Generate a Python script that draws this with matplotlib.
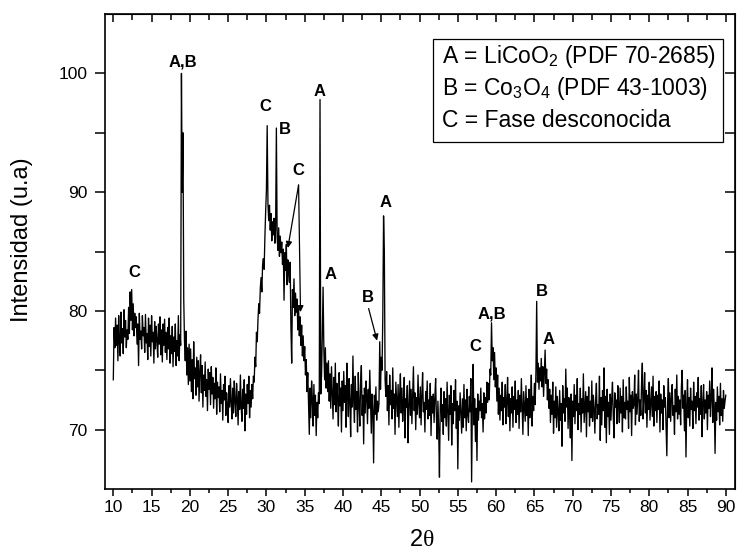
import numpy as np
import matplotlib
matplotlib.use("Agg")
import matplotlib.pyplot as plt

plt.rcParams['font.family'] = ['Liberation Sans', 'DejaVu Sans']
plt.rcParams['mathtext.fontset'] = 'custom'
plt.rcParams['mathtext.rm'] = 'Liberation Sans'
plt.rcParams['mathtext.it'] = 'Liberation Sans'
plt.rcParams['mathtext.sf'] = 'Liberation Serif'

# 2-theta sampling grid: 10.0 .. 90.0 in 0.1 deg steps
theta_start, theta_stop, theta_step = 10.0, 90.0, 0.1

# Intensity values (one row per degree)
seg_10_20 = [
    74.2, 78.6, 76.9, 79.4, 77.1, 78.8, 75.8, 79.6, 77.4, 76.2,
    79.9, 77.3, 78.5, 76.4, 80.1, 77.8, 79.2, 76.9, 78.4, 77.6,
    80.3, 78.1, 81.6, 79.2, 81.8, 78.4, 80.6, 77.9, 79.8, 78.6,
    79.5, 77.2, 78.9, 75.4, 79.8, 77.6, 78.3, 76.8, 79.6, 77.9,
    78.6, 76.5, 79.7, 77.3, 78.1, 75.9, 79.4, 77.0, 78.8, 76.2,
    79.6, 77.4, 78.2, 75.6, 79.1, 76.8, 78.7, 77.5, 76.1, 78.9,
    77.2, 79.5, 76.3, 78.4, 75.7, 78.9, 77.1, 79.3, 76.5, 78.2,
    75.9, 78.6, 76.8, 79.4, 75.6, 77.9, 76.4, 78.7, 75.3, 77.8,
    76.6, 78.9, 75.4, 77.5, 76.2, 79.6, 75.8, 78.0, 77.1, 100.0,
    90.0, 95.0, 81.0, 77.4, 75.8, 78.3, 74.6, 76.9, 73.8, 77.2,
]
seg_20_30 = [
    74.1, 76.8, 73.2, 75.9, 72.6, 77.4, 74.3, 75.2, 72.9, 76.1,
    73.6, 75.8, 72.4, 74.9, 76.3, 73.1, 75.4, 71.9, 74.6, 73.3,
    75.7, 72.8, 74.2, 71.6, 75.1, 73.4, 74.8, 72.1, 75.3, 73.0,
    74.4, 71.8, 73.9, 72.6, 75.2, 71.3, 74.0, 72.7, 73.6, 71.5,
    74.7, 72.2, 73.3, 70.8, 73.8, 72.5, 74.5, 71.2, 73.1, 72.0,
    70.6, 73.7, 71.9, 74.3, 72.3, 70.9, 73.5, 71.4, 74.1, 72.4,
    71.1, 73.9, 72.6, 70.4, 73.2, 71.7, 74.6, 72.0, 70.7, 73.4,
    71.8, 74.2, 69.9, 73.0, 71.3, 73.8, 72.2, 74.5, 71.0, 73.3,
    71.9, 73.8, 72.6, 74.5, 74.0, 76.1, 75.3, 78.2, 77.4, 79.3,
    80.6, 79.8, 81.9, 82.8, 81.6, 83.9, 84.4, 83.5, 86.2, 88.4,
]
seg_30_40 = [
    90.2, 95.6, 89.0, 87.6, 88.9, 86.8, 88.2, 85.9, 87.5, 86.4,
    87.8, 85.7, 86.9, 95.4, 86.2, 85.1, 87.0, 84.6, 86.3, 84.9,
    85.8, 83.9, 85.2, 80.9, 84.9, 83.4, 85.6, 82.2, 84.3, 83.1,
    82.4, 84.1, 78.6, 75.6, 81.8, 80.3, 82.7, 79.6, 81.5, 79.9,
    81.0, 78.4, 80.2, 77.9, 79.5, 77.1, 78.8, 76.2, 77.9, 75.8,
    77.0, 74.6, 75.9, 73.2, 74.8, 72.1, 69.6, 73.5, 71.0, 74.1,
    72.6, 70.3, 73.8, 71.2, 72.9, 69.5, 72.3, 71.0, 73.1, 72.2,
    97.8, 73.0, 74.6, 78.0, 82.0, 76.8, 74.2, 76.9, 73.5, 75.6,
    73.2, 75.8, 72.4, 74.7, 71.8, 75.3, 73.0, 70.9, 74.4, 72.1,
    75.6, 71.5, 73.9, 72.6, 70.3, 74.8, 72.0, 73.5, 69.8, 74.1,
]
seg_40_50 = [
    71.6, 74.9, 72.3, 73.7, 70.2, 75.6, 72.8, 71.1, 74.3, 72.5,
    69.4, 73.8, 71.9, 76.2, 72.4, 70.6, 74.5, 71.7, 73.2, 69.8,
    74.8, 72.1, 70.3, 73.9, 75.4, 71.2, 72.9, 68.8, 73.5, 71.4,
    74.1, 72.7, 70.5, 73.4, 71.8, 75.0, 72.3, 69.7, 73.0, 71.6,
    67.2, 72.9, 71.3, 73.6, 70.8, 72.4, 71.5, 72.2, 77.4, 73.4,
    76.1, 75.0, 79.5, 88.0, 85.1, 74.2, 72.8, 74.9, 71.6, 73.7,
    70.4, 74.6, 72.1, 73.3, 70.9, 75.2, 71.8, 73.0, 69.6, 74.0,
    72.5, 71.1, 73.8, 70.2, 72.9, 74.7, 71.4, 73.5, 70.7, 72.3,
    74.4, 69.3, 72.6, 71.9, 73.7, 68.9, 72.0, 74.1, 71.2, 73.4,
    70.5, 72.8, 75.3, 71.6, 73.1, 70.0, 72.7, 71.3, 74.6, 72.2,
]
seg_50_60 = [
    71.0, 73.6, 70.4, 72.9, 74.8, 71.5, 72.3, 69.8, 73.2, 71.7,
    74.1, 70.9, 72.5, 71.2, 73.9, 69.5, 72.8, 71.4, 73.0, 70.6,
    72.7, 74.3, 71.1, 69.2, 72.4, 70.0, 66.0, 71.8, 73.5, 70.7,
    72.1, 69.6, 73.2, 71.0, 72.6, 70.3, 74.0, 71.7, 69.1, 72.9,
    71.3, 73.7, 68.7, 72.2, 70.5, 73.3, 71.6, 74.2, 70.1, 72.4,
    66.7, 72.0, 70.8, 73.1, 71.4, 69.7, 72.6, 70.2, 73.8, 71.0,
    72.5, 69.9, 73.4, 71.2, 70.6, 72.8, 71.5, 74.3, 65.6, 72.1,
    75.5, 70.4, 72.6, 69.0, 71.8, 67.4, 73.0, 70.8, 72.4, 71.6,
    73.5, 71.0, 72.2, 69.8, 73.1, 70.9, 72.7, 71.4, 74.0, 72.3,
    73.9, 72.5, 75.1, 74.6, 79.0, 75.8, 76.9, 74.2, 76.5, 73.6,
]
seg_60_70 = [
    75.2, 72.4, 74.6, 71.3, 73.5, 70.8, 72.9, 71.6, 74.0, 70.4,
    72.7, 71.9, 73.8, 70.5, 72.3, 74.4, 71.1, 73.0, 69.9, 72.6,
    71.4, 73.6, 70.2, 72.8, 71.7, 74.1, 70.6, 72.5, 71.3, 73.3,
    70.1, 72.9, 71.5, 74.3, 71.8, 69.6, 73.2, 72.0, 70.7, 73.7,
    71.2, 72.6, 69.5, 73.4, 71.0, 72.3, 74.6, 70.3, 72.8, 71.6,
    73.9, 72.1, 74.8, 80.8, 74.0, 75.6, 73.4, 75.2, 74.1, 76.0,
    73.6, 75.3, 72.8, 74.7, 76.7, 73.9, 75.1, 72.5, 74.2, 71.8,
    73.4, 70.6, 72.9, 71.3, 74.0, 69.7, 72.4, 71.0, 73.6, 70.2,
    72.8, 71.5, 69.9, 73.3, 70.8, 72.2, 68.6, 73.7, 71.4, 72.6,
    70.7, 75.1, 71.9, 73.5, 70.1, 72.7, 71.2, 69.3, 73.0, 67.4,
]
seg_70_80 = [
    72.4, 71.1, 73.8, 70.5, 72.9, 71.6, 74.3, 70.0, 72.2, 71.3,
    73.5, 69.8, 72.6, 71.4, 74.7, 70.6, 72.0, 73.2, 69.4, 72.8,
    71.5, 73.6, 70.3, 72.4, 71.0, 74.1, 70.7, 72.9, 71.8, 69.7,
    72.5, 73.9, 70.9, 72.1, 71.3, 74.5, 69.1, 72.7, 70.4, 73.3,
    71.6, 75.2, 70.2, 72.8, 68.9, 73.4, 71.1, 72.3, 69.6, 73.0,
    70.8, 72.6, 74.0, 71.2, 69.3, 73.1, 71.9, 72.5, 70.5, 73.7,
    72.0, 70.6, 73.5, 71.4, 72.8, 69.8, 74.2, 71.0, 72.3, 70.9,
    73.6, 71.7, 72.4, 70.1, 74.4, 71.5, 72.9, 69.5, 73.2, 71.8,
    72.1, 74.6, 70.4, 73.0, 71.3, 72.7, 75.0, 70.7, 72.5, 71.2,
    73.9, 75.6, 70.9, 72.6, 74.8, 71.4, 73.3, 70.2, 72.9, 71.7,
]
seg_80_90 = [
    74.0, 70.8, 72.3, 73.6, 71.1, 74.5, 70.3, 72.8, 71.6, 73.2,
    70.6, 72.9, 71.7, 74.1, 69.8, 73.0, 71.4, 72.5, 70.0, 73.7,
    71.9, 72.7, 70.2, 67.8, 72.4, 74.3, 71.0, 73.1, 70.7, 72.6,
    73.8, 71.2, 72.0, 69.6, 73.4, 71.5, 74.6, 70.9, 72.8, 71.3,
    72.5, 70.4, 73.6, 75.0, 71.8, 72.9, 69.9, 73.3, 67.7, 72.1,
    74.2, 71.0, 72.7, 70.3, 73.5, 71.7, 72.4, 70.1, 74.0, 71.6,
    72.8, 70.5, 73.1, 71.9, 74.4, 70.8, 72.6, 71.3, 73.7, 69.4,
    72.2, 73.8, 70.9, 72.5, 71.4, 73.2, 70.0, 72.9, 71.8, 74.1,
    71.1, 72.7, 75.2, 70.6, 73.4, 71.9, 68.0, 72.3, 70.8, 73.6,
    71.5, 72.8, 70.4, 73.9, 71.2, 72.6, 70.7, 73.3, 71.8, 72.4,
    72.9,
]

intensity = np.array(seg_10_20 + seg_20_30 + seg_30_40 + seg_40_50 +
                     seg_50_60 + seg_60_70 + seg_70_80 + seg_80_90)
two_theta = np.linspace(theta_start, theta_stop, len(intensity))

# Peak labels: (text, 2theta, intensity)
peak_labels = [
    ("C", 12.8, 83.2), ("A,B", 19.1, 101.0), ("C", 29.9, 97.2),
    ("B", 32.4, 95.3), ("C", 34.1, 91.8), ("A", 36.9, 98.5),
    ("A", 38.4, 83.1), ("B", 43.3, 81.1), ("A", 45.5, 89.1),
    ("C", 57.3, 77.0), ("A,B", 59.5, 79.7), ("B", 66.0, 81.6),
    ("A", 66.8, 77.6),
]
# Arrows: (start 2theta, start I, end 2theta, end I)
arrows = [
    (34.2, 90.6, 32.8, 85.3),
    (34.2, 90.6, 34.45, 79.9),
    (43.35, 80.2, 44.45, 77.5),
]
legend_lines = [
    "A = LiCoO$_2$ (PDF 70-2685)",
    "B = Co$_3$O$_4$ (PDF 43-1003)",
    "C = Fase desconocida",
]

fig = plt.figure(figsize=(7.38, 5.59), dpi=100)
ax = fig.add_axes([0.1416, 0.1252, 0.8543, 0.8497])
ax.plot(two_theta, intensity, color='black', lw=0.95)

ax.set_xlim(8.85, 91.2)
ax.set_ylim(65, 105)
ax.set_xticks(np.arange(10, 91, 5))
ax.set_xticks(np.arange(12.5, 90, 5), minor=True)
ax.set_yticks([70, 80, 90, 100])
ax.set_yticks([75, 85, 95], minor=True)
ax.tick_params(axis='x', which='major', direction='out', length=5, width=1.1,
               labelsize=12.5, pad=3)
ax.tick_params(axis='x', which='minor', direction='out', length=3, width=1.1)
ax.tick_params(axis='y', which='both', direction='out', length=7, width=1.1,
               labelsize=12.5, pad=5)
for s in ax.spines.values():
    s.set_linewidth(1.2)

top = ax.secondary_xaxis('top')
top.set_xticks(np.arange(10, 91, 5))
top.set_xticks(np.arange(12.5, 90, 5), minor=True)
top.tick_params(which='major', direction='in', length=6, width=1.1, labeltop=False)
top.tick_params(which='minor', direction='in', length=4, width=1.1)
top.set_xticklabels([])
right = ax.secondary_yaxis('right')
right.set_yticks([70, 75, 80, 85, 90, 95, 100])
right.tick_params(which='major', direction='in', length=7, width=1.1)
right.set_yticklabels([])

ax.set_ylabel("Intensidad (u.a)", fontsize=17)
ax.yaxis.set_label_coords(-0.114, 0.525)
ax.set_xlabel(r"$\mathrm{2}\mathsf{\theta}$", fontsize=17)
ax.xaxis.set_label_coords(0.5036, -0.085)

for txt, xx, yy in peak_labels:
    ax.text(xx, yy, txt, ha='center', va='center', fontsize=12, fontweight='bold')
for x0, y0, x1, y1 in arrows:
    ax.annotate("", xy=(x1, y1), xytext=(x0, y0),
                arrowprops=dict(arrowstyle='-|>', color='black', lw=0.9,
                                mutation_scale=9, shrinkA=0, shrinkB=0))

ax.add_patch(plt.Rectangle((0.5215, 0.731), 0.459, 0.216, transform=ax.transAxes,
                           fill=False, edgecolor='black', lw=0.9))
for i, line in enumerate(legend_lines):
    ax.text(0.536, 0.896 - i * 0.0665, line, transform=ax.transAxes,
            fontsize=16.5, ha='left', va='baseline')

fig.savefig("out.png", dpi=100)
